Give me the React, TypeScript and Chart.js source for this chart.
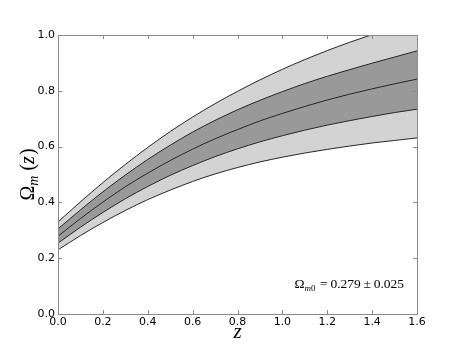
import React, { useEffect, useRef } from 'react';
import { Chart, registerables } from 'chart.js';

Chart.register(...registerables);

const zValues = [0, 0.1, 0.2, 0.3, 0.4, 0.5, 0.6, 0.7, 0.8, 0.9, 1.0, 1.1, 1.2, 1.3, 1.4, 1.5, 1.6];
const outerUpper = [0.330, 0.402, 0.471, 0.536, 0.597, 0.654, 0.706, 0.754, 0.798, 0.839, 0.877, 0.912, 0.944, 0.974, 1.001, 1.027, 1.050];
const innerUpper = [0.305, 0.373, 0.438, 0.498, 0.554, 0.605, 0.652, 0.694, 0.732, 0.766, 0.797, 0.826, 0.852, 0.876, 0.899, 0.921, 0.943];
const central = [0.279, 0.342, 0.401, 0.456, 0.505, 0.550, 0.591, 0.628, 0.661, 0.692, 0.719, 0.744, 0.767, 0.788, 0.807, 0.825, 0.842];
const innerLower = [0.254, 0.311, 0.364, 0.413, 0.457, 0.497, 0.532, 0.564, 0.592, 0.617, 0.639, 0.659, 0.677, 0.693, 0.708, 0.722, 0.734];
const outerLower = [0.230, 0.281, 0.328, 0.371, 0.410, 0.444, 0.475, 0.502, 0.525, 0.545, 0.562, 0.577, 0.590, 0.602, 0.613, 0.622, 0.631];

const xTicks = [0, 0.2, 0.4, 0.6, 0.8, 1.0, 1.2, 1.4, 1.6];
const yTicks = [0, 0.2, 0.4, 0.6, 0.8, 1.0];
const fitValue = '0.279';
const fitError = '0.025';

const LIGHT = '#d3d3d3';
const DARK = '#999999';
const LINE = '#262626';
const FRAME = '#8a8a8a';
const SERIF = '"Liberation Serif", "DejaVu Serif", serif';

const pts = (ys: number[]) => zValues.map((z, i) => ({ x: z, y: ys[i] }));

const decorPlugin = {
  id: 'decor',
  afterDraw(chart: any) {
    const { ctx, chartArea, scales } = chart;
    const { left, right, top, bottom } = chartArea;
    ctx.save();
    // frame
    ctx.strokeStyle = FRAME;
    ctx.lineWidth = 1;
    ctx.strokeRect(Math.round(left) + 0.5, Math.round(top) + 0.5, Math.round(right - left), Math.round(bottom - top));
    // inward ticks
    const tl = 4;
    ctx.beginPath();
    xTicks.forEach((v) => {
      const px = Math.round(scales.x.getPixelForValue(v)) + 0.5;
      ctx.moveTo(px, bottom);
      ctx.lineTo(px, bottom - tl);
      ctx.moveTo(px, top);
      ctx.lineTo(px, top + tl);
    });
    yTicks.forEach((v) => {
      const py = Math.round(scales.y.getPixelForValue(v)) + 0.5;
      ctx.moveTo(left, py);
      ctx.lineTo(left + tl, py);
      ctx.moveTo(right, py);
      ctx.lineTo(right - tl, py);
    });
    ctx.stroke();

    ctx.fillStyle = '#000';
    ctx.textBaseline = 'alphabetic';

    // x title
    ctx.font = `italic 21px ${SERIF}`;
    ctx.textAlign = 'center';
    ctx.fillText('z', (left + right) / 2, bottom + 24);

    // y title: Ω_m (z)
    ctx.save();
    ctx.translate(left - 24, (top + bottom) / 2);
    ctx.rotate(-Math.PI / 2);
    ctx.textAlign = 'left';
    const bigFont = `20px ${SERIF}`;
    const subFont = `italic 14px ${SERIF}`;
    const itFont = `italic 20px ${SERIF}`;
    ctx.font = bigFont;
    const wO = ctx.measureText('Ω').width;
    ctx.font = subFont;
    const wM = ctx.measureText('m').width;
    ctx.font = bigFont;
    const wSp = 5;
    const wL = ctx.measureText('(').width;
    const wR = ctx.measureText(')').width;
    ctx.font = itFont;
    const wZ = ctx.measureText('z').width;
    const total = wO + wM + wSp + wL + wZ + wR + 1;
    let cx = -total / 2;
    ctx.font = bigFont;
    ctx.fillText('Ω', cx, 0);
    cx += wO;
    ctx.font = subFont;
    ctx.fillText('m', cx, 4);
    cx += wM + wSp;
    ctx.font = bigFont;
    ctx.fillText('(', cx, 0);
    cx += wL;
    ctx.font = itFont;
    ctx.fillText('z', cx, 0);
    cx += wZ + 1;
    ctx.font = bigFont;
    ctx.fillText(')', cx, 0);
    ctx.restore();

    // annotation Ω_m0 = value ± error
    const aFont = `13.5px ${SERIF}`;
    const aSub = `9px ${SERIF}`;
    const aSubIt = `italic 9px ${SERIF}`;
    const rest = `\u2009=\u2009${fitValue}\u2009±\u2009${fitError}`;
    ctx.font = aFont;
    const aO = ctx.measureText('Ω').width;
    const aRest = ctx.measureText(rest).width;
    ctx.font = aSubIt;
    const aM = ctx.measureText('m').width;
    ctx.font = aSub;
    const a0 = ctx.measureText('0').width;
    const baseY = bottom - 26;
    let ax = right - 13 - (aO + aM + a0 + 2 + aRest);
    ctx.textAlign = 'left';
    ctx.font = aFont;
    ctx.fillText('Ω', ax, baseY);
    ax += aO;
    ctx.font = aSubIt;
    ctx.fillText('m', ax, baseY + 3);
    ax += aM;
    ctx.font = aSub;
    ctx.fillText('0', ax, baseY + 3);
    ax += a0 + 2;
    ctx.font = aFont;
    ctx.fillText(rest, ax, baseY);
    ctx.restore();
  },
};

export default function App() {
  const ref = useRef<HTMLCanvasElement | null>(null);
  useEffect(() => {
    if (!ref.current) return;
    const lineDs = (ys: number[], fill: any, bg: string) => ({
      data: pts(ys),
      borderColor: LINE,
      borderWidth: 1,
      pointRadius: 0,
      backgroundColor: bg,
      fill,
      cubicInterpolationMode: 'monotone' as const,
    });
    const chart = new Chart(ref.current, {
      type: 'line',
      data: {
        datasets: [
          lineDs(outerUpper, false, LIGHT),
          lineDs(innerUpper, false, DARK),
          lineDs(central, false, DARK),
          lineDs(innerLower, { target: 1 }, DARK),
          lineDs(outerLower, { target: 0 }, LIGHT),
        ],
      },
      options: {
        responsive: false,
        animation: false,
        events: [],
        layout: { padding: { left: 0, top: 35, right: 46, bottom: 0 } },
        plugins: {
          legend: { display: false },
          tooltip: { enabled: false },
        },
        scales: {
          x: {
            type: 'linear',
            min: 0,
            max: 1.6,
            grid: { display: false, drawTicks: false, tickLength: 0 },
            border: { display: false },
            afterBuildTicks: (s: any) => {
              s.ticks = xTicks.map((v) => ({ value: v }));
            },
            afterFit: (s: any) => {
              s.height = 35;
            },
            ticks: {
              autoSkip: false,
              maxRotation: 0,
              padding: 2,
              color: '#000',
              font: { family: '"DejaVu Sans", sans-serif', size: 11 },
              callback: (v: any) => Number(v).toFixed(1),
            },
          },
          y: {
            type: 'linear',
            min: 0,
            max: 1.0,
            grid: { display: false, drawTicks: false, tickLength: 0 },
            border: { display: false },
            afterBuildTicks: (s: any) => {
              s.ticks = yTicks.map((v) => ({ value: v }));
            },
            afterFit: (s: any) => {
              s.width = 58;
            },
            ticks: {
              autoSkip: false,
              padding: 3,
              color: '#000',
              font: { family: '"DejaVu Sans", sans-serif', size: 11 },
              callback: (v: any) => Number(v).toFixed(1),
            },
          },
        },
      },
      plugins: [decorPlugin],
    });
    return () => chart.destroy();
  }, []);
  return (
    <div style={{ position: 'absolute', left: 0, top: 0, width: 463, height: 349, background: '#fff' }}>
      <canvas ref={ref} width={463} height={349} style={{ display: 'block', width: 463, height: 349 }} />
    </div>
  );
}
